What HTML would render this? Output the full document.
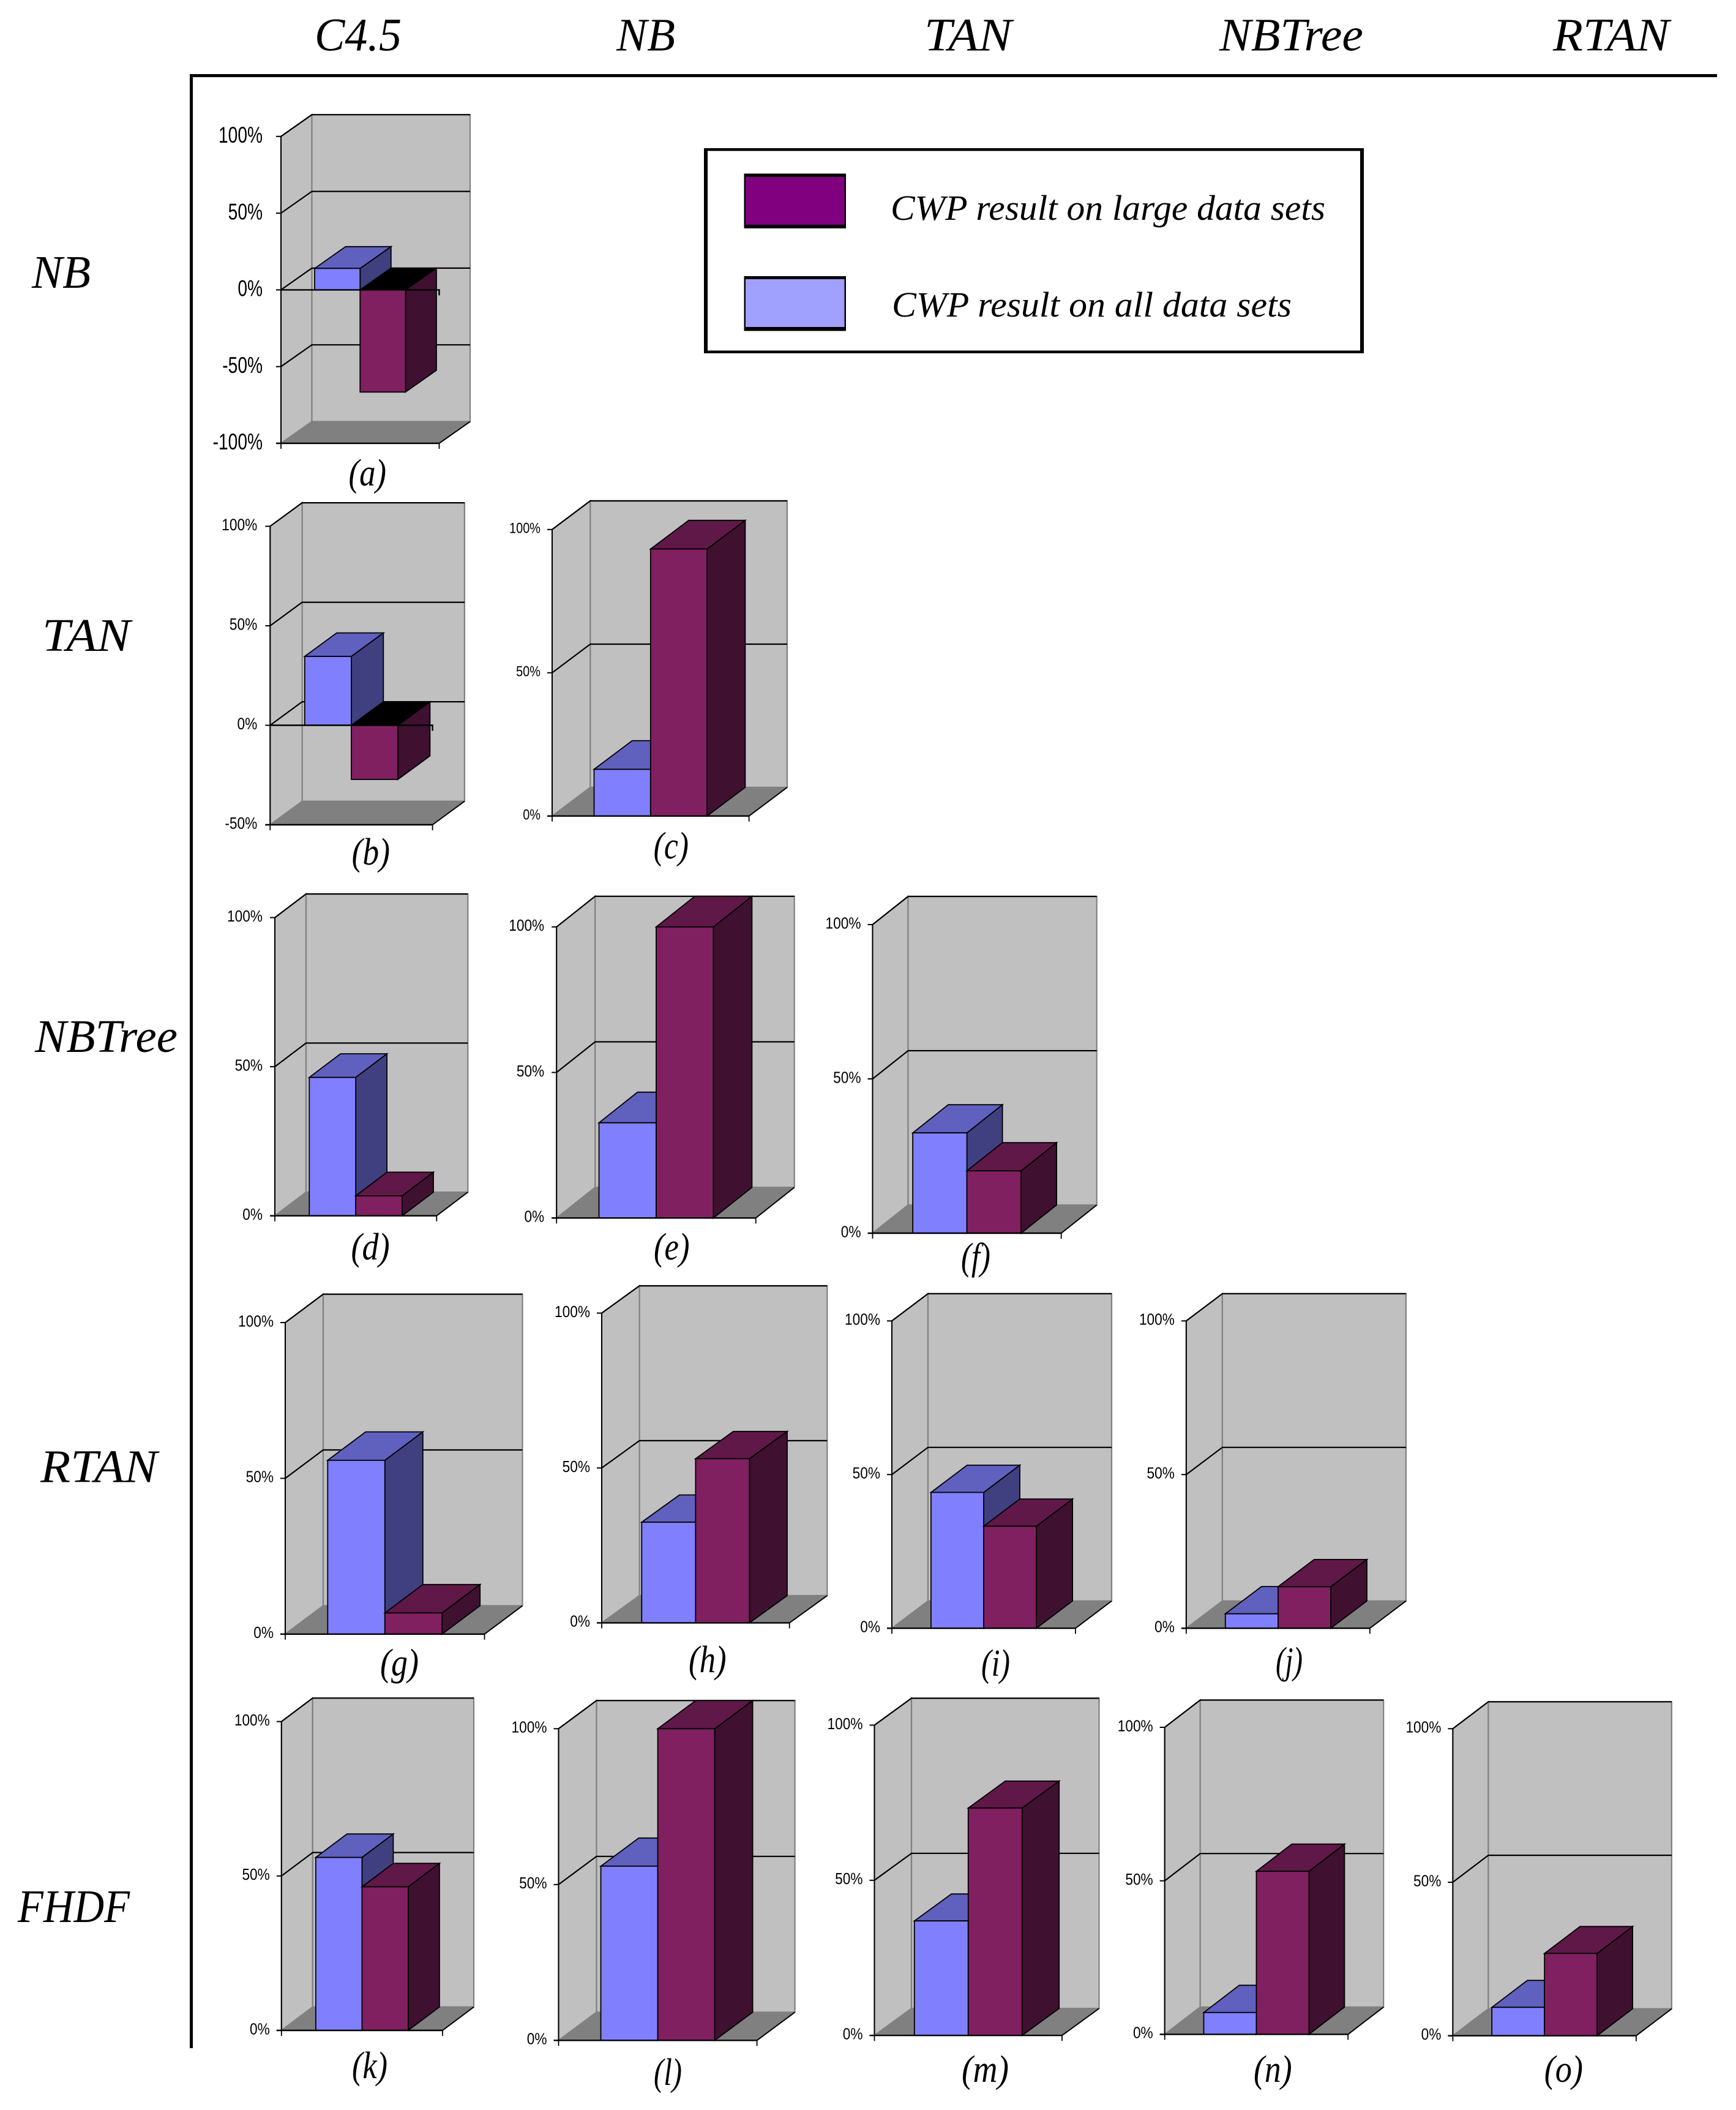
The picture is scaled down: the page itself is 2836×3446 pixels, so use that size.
<!DOCTYPE html>
<html lang="en">
<head>
<meta charset="utf-8">
<title>CWP result comparison matrix</title>
<style>
html,body{margin:0;padding:0;background:#fff;}
svg{display:block;}
.italic-label{font-family:"Liberation Serif",serif;font-style:italic;fill:#000;}
.tick-label{font-family:"Liberation Sans",sans-serif;fill:#000;}
</style>
</head>
<body>
<svg id="figure" xmlns="http://www.w3.org/2000/svg" width="2836" height="3446" viewBox="0 0 2836 3446">
  <rect x="0" y="0" width="2836" height="3446" fill="#ffffff"/>

  <g font-size="76">
    <text class="italic-label" x="514" y="82.5" textLength="142" lengthAdjust="spacingAndGlyphs">C4.5</text>
    <text class="italic-label" x="1007" y="82.5" textLength="96" lengthAdjust="spacingAndGlyphs">NB</text>
    <text class="italic-label" x="1510" y="82.5" textLength="143" lengthAdjust="spacingAndGlyphs">TAN</text>
    <text class="italic-label" x="1992" y="82.5" textLength="235" lengthAdjust="spacingAndGlyphs">NBTree</text>
    <text class="italic-label" x="2537" y="82.5" textLength="190" lengthAdjust="spacingAndGlyphs">RTAN</text>
  </g>

  <g font-size="76">
    <text class="italic-label" x="52" y="470" textLength="96" lengthAdjust="spacingAndGlyphs">NB</text>
    <text class="italic-label" x="69" y="1063" textLength="144" lengthAdjust="spacingAndGlyphs">TAN</text>
    <text class="italic-label" x="57" y="1718" textLength="233" lengthAdjust="spacingAndGlyphs">NBTree</text>
    <text class="italic-label" x="66" y="2420.5" textLength="191" lengthAdjust="spacingAndGlyphs">RTAN</text>
    <text class="italic-label" x="29" y="3139" textLength="183" lengthAdjust="spacingAndGlyphs">FHDF</text>
  </g>

  <rect x="310" y="121" width="2495" height="5" fill="#000"/>
  <rect x="310" y="121" width="5" height="3224" fill="#000"/>

  <g>
    <rect x="1150" y="242" width="1078" height="335" fill="#000"/>
    <rect x="1156" y="246.5" width="1066" height="326" fill="#fff"/>
    <rect x="1215.5" y="283.5" width="166.5" height="89.5" fill="#000"/>
    <rect x="1218" y="289" width="161.5" height="78" fill="#800080"/>
    <text class="italic-label" x="1455" y="359" font-size="58" textLength="710" lengthAdjust="spacingAndGlyphs">CWP result on large data sets</text>
    <rect x="1215.5" y="451" width="166.5" height="89.5" fill="#000"/>
    <rect x="1218" y="456" width="161.5" height="78" fill="#a0a0ff"/>
    <text class="italic-label" x="1457" y="517" font-size="58" textLength="653" lengthAdjust="spacingAndGlyphs">CWP result on all data sets</text>
  </g>

  <g id="panels"></g>
</svg>

<script>
// ---- chart data (percent values) ----
const panelIds = ['a','b','c','d','e','f','g','h','i','j','k','l','m','n','o'];
const allDataResults   = [14, 34.6, 16.3, 46.4, 32.7, 32.5, 55.8, 32.5, 44.2, 4.7, 56, 55.9, 36.9, 7.1, 9.25];
const largeDataResults = [-66.6, -27.2, 93.2, 6.7, 100, 20.2, 6.8, 53, 33.2, 13.5, 46.5, 100, 73.3, 53.1, 26.8];
const ticksFull = [-100, -50, 0, 50, 100];
const ticksPartial = [-50, 0, 50, 100];
const ticksPositive = [0, 50, 100];
const panelTicks = [ticksFull, ticksPartial, ticksPositive, ticksPositive, ticksPositive, ticksPositive, ticksPositive, ticksPositive, ticksPositive, ticksPositive, ticksPositive, ticksPositive, ticksPositive, ticksPositive, ticksPositive];

// ---- panel geometry (placement on the sheet, not data) ----
const panelBoxes = {
  a:{x:459,   w:258.5, top:222.8,  bottom:724,    dx:50.5, dy:35.5, fs:37, lab:72, off:30, c1:569.5, c2:631,   cy:793},
  b:{x:441.3, w:265.3, top:859.5,  bottom:1347,   dx:52.3, dy:38.4, fs:27, lab:58, off:21, c1:574.6, c2:637,   cy:1412},
  c:{x:902,   w:321.6, top:864.8,  bottom:1332.7, dx:62.3, dy:46.8, fs:24, lab:51, off:19, c1:1067.6,c2:1125,  cy:1402},
  d:{x:449,   w:264.3, top:1498.6, bottom:1985.6, dx:51,   dy:38.6, fs:26, lab:58, off:20, c1:573.5, c2:636.7, cy:2057},
  e:{x:909.2, w:325.5, top:1513.8, bottom:1989.2, dx:63,   dy:50,   fs:26, lab:58, off:20, c1:1068,  c2:1126.5,cy:2057},
  f:{x:1425.5,w:308.2, top:1510,   bottom:2014,   dx:58,   dy:46,   fs:26, lab:58, off:19, c1:1570,  c2:1618,  cy:2073},
  g:{x:466,   w:325.5, top:2160,   bottom:2668.8, dx:62,   dy:46.4, fs:26, lab:58, off:19, c1:621,   c2:684,   cy:2736},
  h:{x:983,   w:306.7, top:2144.5, bottom:2650.4, dx:61.6, dy:44.5, fs:26, lab:58, off:19, c1:1125,  c2:1186.6,cy:2731},
  i:{x:1457,  w:300,   top:2157.3, bottom:2659.2, dx:59,   dy:44.5, fs:26, lab:58, off:19, c1:1603,  c2:1650,  cy:2737},
  j:{x:1937.9,w:300,   top:2157.3, bottom:2659.2, dx:59,   dy:44.5, fs:26, lab:58, off:19, c1:2084,  c2:2128,  cy:2733},
  k:{x:459.8, w:263.2, top:2811.6, bottom:3316,   dx:51,   dy:38.3, fs:26, lab:58, off:19, c1:575,   c2:633,   cy:3394},
  l:{x:912.5, w:324.1, top:2823.3, bottom:3332.3, dx:62,   dy:46,   fs:26, lab:58, off:19, c1:1068,  c2:1114,  cy:3405},
  m:{x:1428.5,w:306.5, top:2817.5, bottom:3324.2, dx:60.5, dy:44,   fs:26, lab:58, off:19, c1:1571,  c2:1648,  cy:3400},
  n:{x:1902.7,w:299.5, top:2821,   bottom:3322.4, dx:58,   dy:44.5, fs:26, lab:58, off:19, c1:2048,  c2:2110.6,cy:3400},
  o:{x:2373.4,w:299.5, top:2823.3, bottom:3324.7, dx:58,   dy:44,   fs:26, lab:58, off:19, c1:2522.7,c2:2586,  cy:3400}
};

const SVG_NS = 'http://www.w3.org/2000/svg';
const GAP = 0.213;
const BAR = 0.287;
const blueShades = {front:'#8080ff', top:'#6060bf', side:'#404080'};
const plumShades = {front:'#802060', top:'#601848', side:'#401030'};

function make(parent, tag, attrs) {
  const node = document.createElementNS(SVG_NS, tag);
  for (const key in attrs) node.setAttribute(key, attrs[key]);
  parent.appendChild(node);
  return node;
}
function pts(list) {
  return list.map(function (p) { return p[0].toFixed(1) + ',' + p[1].toFixed(1); }).join(' ');
}
function textWidthEm(label) {
  let em = 0;
  for (const ch of label) em += ch === '%' ? 0.889 : ch === '-' ? 0.333 : 0.556;
  return em;
}

function drawBar(group, box, yScale, seriesIndex, value, shades, id, seriesName) {
  const left = box.x + box.w * (GAP + BAR * seriesIndex);
  const right = left + box.w * BAR;
  const y0 = yScale(Math.max(0, yScale.min));
  const yv = yScale(value);
  const top = Math.min(y0, yv);
  const bot = Math.max(y0, yv);
  const dx = box.dx, dy = box.dy;
  const edge = {stroke:'#000', 'stroke-width':1.8, 'stroke-linejoin':'miter'};

  const side = make(group, 'polygon', Object.assign({points:pts([[right,top],[right+dx,top-dy],[right+dx,bot-dy],[right,bot]]), fill:shades.side}, edge));
  
  

  const lid = make(group, 'polygon', Object.assign({points:pts([[left,top],[left+dx,top-dy],[right+dx,top-dy],[right,top]]), fill: value < 0 ? '#000000' : shades.top}, edge));
  
  

  const face = make(group, 'rect', Object.assign({x:left, y:top, width:right-left, height:bot-top, fill:shades.front}, edge));
  
  
}

function drawPanel(root, id, allValue, largeValue, ticks) {
  const box = panelBoxes[id];
  const vMin = ticks[0], vMax = ticks[ticks.length - 1];
  const yScale = function (v) { return box.top + (vMax - v) / (vMax - vMin) * (box.bottom - box.top); };
  yScale.min = vMin;

  const group = make(root, 'g', {});
  
  

  const x0 = box.x, xr = box.x + box.w, dx = box.dx, dy = box.dy;
  const wallStroke = {stroke:'#808080', 'stroke-width':2.2};

  const sideWall = make(group, 'polygon', Object.assign({points:pts([[x0,box.top],[x0+dx,box.top-dy],[x0+dx,box.bottom-dy],[x0,box.bottom]]), fill:'#c0c0c0'}, wallStroke));
  
  

  const backWall = make(group, 'rect', Object.assign({x:x0+dx, y:box.top-dy, width:box.w, height:box.bottom-box.top, fill:'#c0c0c0'}, wallStroke));
  
  

  const floor = make(group, 'polygon', {points:pts([[x0,box.bottom],[xr,box.bottom],[xr+dx,box.bottom-dy],[x0+dx,box.bottom-dy]]), fill:'#808080'});
  
  

  ticks.forEach(function (t) {
    if (t === vMin) return;
    const y = yScale(t);
    const grid = make(group, 'polyline', {points:pts([[x0,y],[x0+dx,y-dy],[xr+dx,y-dy]]), fill:'none', stroke:'#000', 'stroke-width':2.2});
    
    
  });

  drawBar(group, box, yScale, 0, allValue, blueShades, id, 'all-data');
  drawBar(group, box, yScale, 1, largeValue, plumShades, id, 'large-data');

  const floorEdge = make(group, 'line', {x1:xr, y1:box.bottom, x2:xr+dx, y2:box.bottom-dy, stroke:'#000', 'stroke-width':2});
  
  

  const yAxis = make(group, 'line', {x1:x0, y1:box.top, x2:x0, y2:box.bottom, stroke:'#000', 'stroke-width':2});
  
  

  const xAxis = make(group, 'line', {x1:x0-8, y1:box.bottom, x2:xr, y2:box.bottom, stroke:'#000', 'stroke-width':2.4});
  
  

  [x0, xr].forEach(function (tx) {
    const xTick = make(group, 'line', {x1:tx, y1:box.bottom, x2:tx, y2:box.bottom+9, stroke:'#000', 'stroke-width':1.8});
    
    
  });

  if (vMin < 0) {
    const y0 = yScale(0);
    const zero = make(group, 'polyline', {points:pts([[x0,y0],[xr,y0],[xr,y0+9]]), fill:'none', stroke:'#000', 'stroke-width':2.4});
    
    
  }

  const scaleX = box.lab / (textWidthEm('100%') * box.fs);
  ticks.forEach(function (t) {
    const y = yScale(t);
    const yTick = make(group, 'line', {x1:x0-8, y1:y, x2:x0, y2:y, stroke:'#000', 'stroke-width':2});
    
    

    const label = make(group, 'text', {'class':'tick-label', 'font-size':box.fs, 'text-anchor':'end',
      transform:'translate(' + (x0 - box.off).toFixed(1) + ',' + (y + box.fs * 0.358 - 3).toFixed(1) + ') scale(' + scaleX.toFixed(3) + ',1)'});
    
    
    label.textContent = t + '%';
  });

  const caption = make(group, 'text', {'class':'italic-label', 'font-size':62, x:box.c1, y:box.cy, textLength:(box.c2 - box.c1).toFixed(1), lengthAdjust:'spacingAndGlyphs'});
  
  
  caption.textContent = '(' + id + ')';
}

const panelRoot = document.getElementById('panels');
panelIds.forEach(function (id, i) {
  drawPanel(panelRoot, id, allDataResults[i], largeDataResults[i], panelTicks[i]);
});
</script>
</body>
</html>
